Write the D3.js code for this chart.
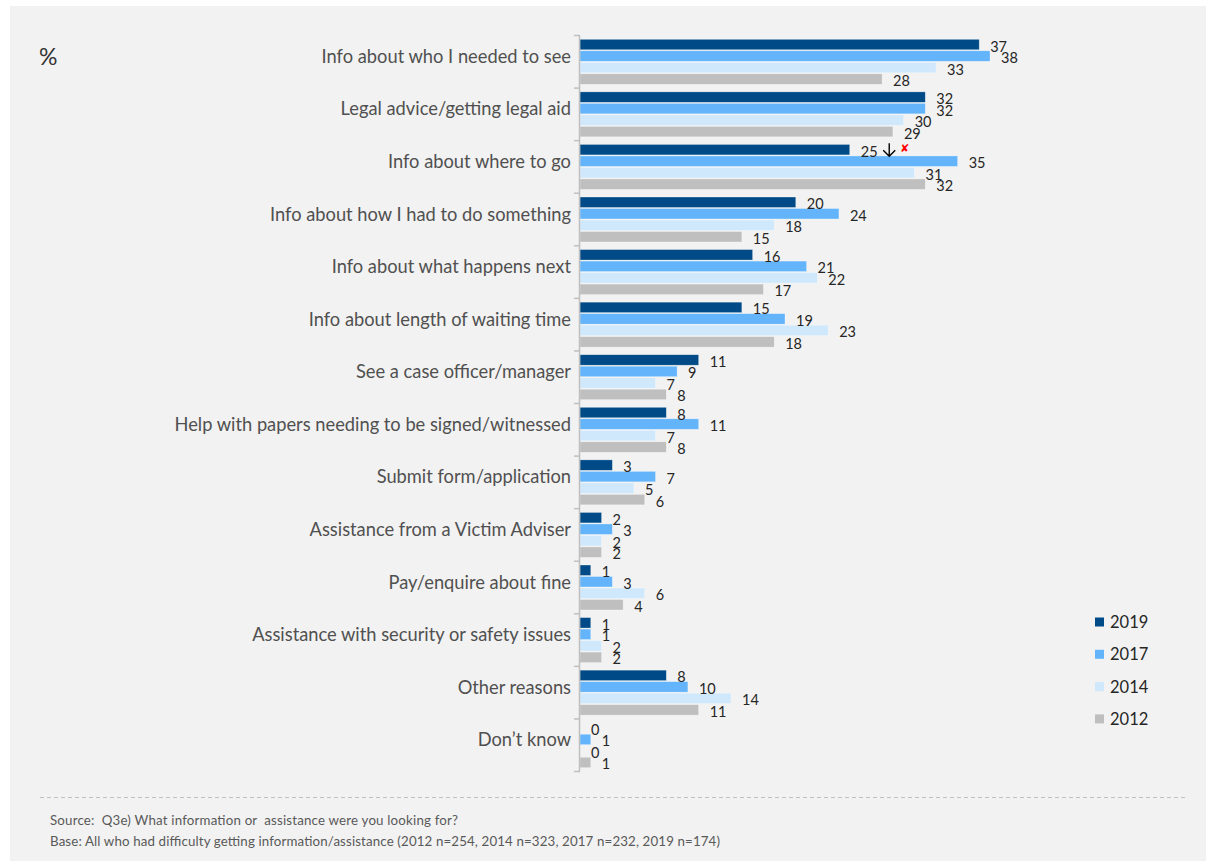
<!DOCTYPE html>
<html>
<head>
<meta charset="utf-8">
<script src="https://cdn.jsdelivr.net/npm/d3@7"></script>
<style>
  html, body { margin: 0; padding: 0; background: #ffffff; }
  svg { display: block; }
</style>
</head>
<body>
<svg id="chart" width="1206" height="861"></svg>
<script>
// Reasons for seeking information or assistance, by survey year (%)
const categories = [
  "Info about who I needed to see",
  "Legal advice/getting legal aid",
  "Info about where to go",
  "Info about how I had to do something",
  "Info about what happens next",
  "Info about length of waiting time",
  "See a case officer/manager",
  "Help with papers needing to be signed/witnessed",
  "Submit form/application",
  "Assistance from a Victim Adviser",
  "Pay/enquire about fine",
  "Assistance with security or safety issues",
  "Other reasons",
  "Don\u2019t know"
];
const years = ["2019", "2017", "2014", "2012"];
const values2019 = [37, 32, 25, 20, 16, 15, 11, 8, 3, 2, 1, 1, 8, 0];
const values2017 = [38, 32, 35, 24, 21, 19, 9, 11, 7, 3, 3, 1, 10, 1];
const values2014 = [33, 30, 31, 18, 22, 23, 7, 7, 5, 2, 6, 2, 14, 0];
const values2012 = [28, 29, 32, 15, 17, 18, 8, 8, 6, 2, 4, 2, 11, 1];
const yearColors = ["#004b87", "#63b4fb", "#d0e8fb", "#bfbfbf"];
// Significant decrease vs 2017 flagged on this category for 2019
const flagged = { category: "Info about where to go", year: "2019" };

const seriesValues = [values2019, values2017, values2014, values2012];
const rows = categories.map((c, i) => ({
  category: c,
  values: years.map((y, j) => ({ year: y, value: seriesValues[j][i] }))
}));

const svg = d3.select("#chart");
const font = "Lato, 'Open Sans', sans-serif";

// panel background
svg.append("rect").attr("x", 10).attr("y", 6).attr("width", 1196).attr("height", 855)
  .attr("fill", "#f2f2f2");

const x = d3.scaleLinear().domain([0, 38]).range([580, 990]);
const y = d3.scaleBand().domain(categories).range([35.5, 771.5]);
const yInner = d3.scaleBand().domain(years).range([0, y.bandwidth()])
  .paddingInner(0.09).paddingOuter(0.33);
const color = d3.scaleOrdinal().domain(years).range(yearColors);

// bars
const groups = svg.append("g").selectAll("g").data(rows).join("g")
  .attr("transform", d => `translate(0,${y(d.category)})`);

groups.selectAll("rect").data(d => d.values).join("rect")
  .attr("x", x(0))
  .attr("y", d => yInner(d.year))
  .attr("width", d => x(d.value) - x(0))
  .attr("height", yInner.bandwidth())
  .attr("fill", d => color(d.year))
  .attr("stroke", "#ffffff")
  .attr("stroke-opacity", 0.5)
  .attr("stroke-width", 0.6);

// value labels
groups.selectAll("text.val").data(d => d.values).join("text")
  .attr("class", "val")
  .attr("x", d => x(d.value) + 11)
  .attr("y", d => yInner(d.year) + yInner.bandwidth() / 2 + 7)
  .attr("font-family", font)
  .attr("font-size", 14.5)
  .attr("fill", "#262626")
  .text(d => d.value);

// change marker: down arrow plus red cross
const fRow = rows.find(r => r.category === flagged.category);
const fVal = fRow.values.find(v => v.year === flagged.year).value;
const fy = y(flagged.category) + yInner(flagged.year) + yInner.bandwidth() / 2;
const ax = x(fVal) + 39.5;
svg.append("path")
  .attr("d", `M${ax},${fy - 6.5}V${fy + 6.5}M${ax - 6},${fy + 0.5}L${ax},${fy + 6.5}L${ax + 6},${fy + 0.5}`)
  .attr("fill", "none")
  .attr("stroke", "#000000")
  .attr("stroke-width", 1.4);
svg.append("text")
  .attr("x", ax + 11).attr("y", fy + 2.5)
  .attr("font-family", "'DejaVu Sans', sans-serif")
  .attr("font-size", 11)
  .attr("font-weight", "bold")
  .attr("fill", "#ff0000")
  .text("\u2718");

// category axis
const axis = svg.append("g");
axis.append("line")
  .attr("x1", x(0) - 0.5).attr("x2", x(0) - 0.5)
  .attr("y1", y.range()[0]).attr("y2", y.range()[1])
  .attr("stroke", "#bfbfbf").attr("stroke-width", 1.5);
const boundaries = categories.map(c => y(c)).concat([y.range()[1]]);
axis.selectAll("line.tick").data(boundaries).join("line")
  .attr("class", "tick")
  .attr("x1", x(0) - 6).attr("x2", x(0))
  .attr("y1", d => d).attr("y2", d => d)
  .attr("stroke", "#bfbfbf").attr("stroke-width", 1.5);
axis.selectAll("text").data(categories).join("text")
  .attr("x", 571)
  .attr("y", d => y(d) + y.bandwidth() / 2 + 1)
  .attr("text-anchor", "end")
  .attr("font-family", font)
  .attr("font-size", 18.3)
  .attr("fill", "#505050")
  .text(d => d);

// percent marker
svg.append("text").attr("x", 39).attr("y", 65)
  .attr("font-family", font).attr("font-size", 23).attr("fill", "#333333")
  .text("%");

// legend
const legend = svg.append("g").selectAll("g").data(years).join("g")
  .attr("transform", (d, i) => `translate(1095,${622 + i * 32.3})`);
legend.append("rect").attr("x", 0).attr("y", -4.5).attr("width", 9).attr("height", 9)
  .attr("fill", d => color(d));
legend.append("text").attr("x", 15).attr("y", 6)
  .attr("font-family", font).attr("font-size", 16.5).attr("fill", "#262626")
  .text(d => d);

// footer
svg.append("line").attr("x1", 40).attr("x2", 1186).attr("y1", 797.5).attr("y2", 797.5)
  .attr("stroke", "#bfbfbf").attr("stroke-dasharray", "4,3");
const notes = [
  "Source:  Q3e) What information or  assistance were you looking for?",
  "Base: All who had difficulty getting information/assistance (2012 n=254, 2014 n=323, 2017 n=232, 2019 n=174)"
];
const noteWidths = [408, 670];
svg.selectAll("text.note").data(notes).join("text")
  .attr("class", "note")
  .attr("x", 50).attr("y", (d, i) => 825 + i * 21)
  .attr("font-family", font).attr("font-size", 13.3).attr("fill", "#595959")
  .attr("textLength", (d, i) => noteWidths[i])
  .attr("lengthAdjust", "spacing")
  .style("white-space", "pre")
  .text(d => d);
</script>
</body>
</html>
